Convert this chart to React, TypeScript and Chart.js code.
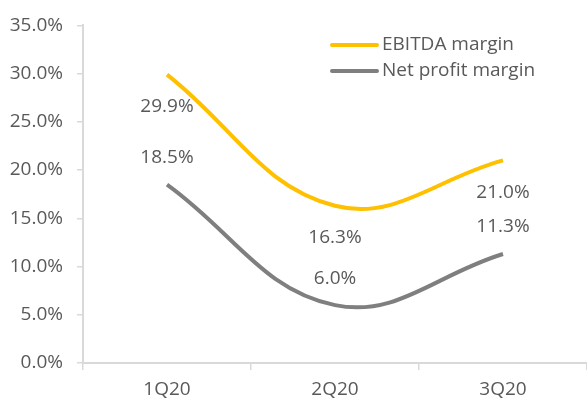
import React, { useEffect, useRef } from "react";
import { Chart, registerables } from "chart.js";

Chart.register(...registerables);

const categories = ["1Q20", "2Q20", "3Q20"];
const ebitdaMargin = [0.299, 0.163, 0.21];
const netProfitMargin = [0.185, 0.06, 0.113];
const seriesNames = ["EBITDA margin", "Net profit margin"];
const seriesColors = ["#FFC000", "#7F7F7F"];
const yMin = 0;
const yMax = 0.35;
const yStep = 0.05;

const FONT = "'Open Sans', 'Liberation Sans', sans-serif";
const TEXT_COLOR = "#595959";
const AXIS_COLOR = "#D9D9D9";
const FONT_SIZE = 19;

const pct = (v: number) => (v * 100).toFixed(1) + "%";

// label offsets from the point (px): positive = below
const labelOffsets = [32, -27];

const dataLabelPlugin = {
  id: "dataLabels",
  afterDatasetsDraw(chart: any) {
    const ctx = chart.ctx;
    ctx.save();
    ctx.font = `${FONT_SIZE}px ${FONT}`;
    ctx.fillStyle = TEXT_COLOR;
    ctx.textAlign = "center";
    ctx.textBaseline = "middle";
    chart.data.datasets.forEach((ds: any, i: number) => {
      const meta = chart.getDatasetMeta(i);
      meta.data.forEach((pt: any, j: number) => {
        ctx.fillText(pct(ds.data[j]), pt.x, pt.y + labelOffsets[i]);
      });
    });
    ctx.restore();
  },
};

const legendPlugin = {
  id: "customLegend",
  afterDraw(chart: any) {
    const ctx = chart.ctx;
    const x0 = 332;
    const lineLen = 45;
    const y0 = 45;
    const rowH = 26;
    ctx.save();
    ctx.font = `${FONT_SIZE}px ${FONT}`;
    ctx.textAlign = "left";
    ctx.textBaseline = "middle";
    chart.data.datasets.forEach((ds: any, i: number) => {
      const y = y0 + i * rowH;
      ctx.strokeStyle = ds.borderColor;
      ctx.lineWidth = 4;
      ctx.lineCap = "round";
      ctx.beginPath();
      ctx.moveTo(x0, y);
      ctx.lineTo(x0 + lineLen, y);
      ctx.stroke();
      ctx.fillStyle = TEXT_COLOR;
      ctx.fillText(ds.label, x0 + lineLen + 5, y);
    });
    ctx.restore();
  },
};

export default function App() {
  const ref = useRef<HTMLCanvasElement>(null);

  useEffect(() => {
    document.body.style.margin = "0";
    const canvas = ref.current;
    if (!canvas) return;
    const chart = new Chart(canvas, {
      type: "line",
      data: {
        labels: categories,
        datasets: [
          {
            label: seriesNames[0],
            data: ebitdaMargin,
            borderColor: seriesColors[0],
            backgroundColor: seriesColors[0],
            borderWidth: 4,
            pointRadius: 0,
            tension: 0.4,
            fill: false,
          },
          {
            label: seriesNames[1],
            data: netProfitMargin,
            borderColor: seriesColors[1],
            backgroundColor: seriesColors[1],
            borderWidth: 4,
            pointRadius: 0,
            tension: 0.4,
            fill: false,
          },
        ],
      },
      options: {
        responsive: false,
        animation: false,
        layout: { padding: { top: 22, right: 0, bottom: 0, left: 0 } },
        plugins: {
          legend: { display: false },
          tooltip: { enabled: false },
        },
        scales: {
          x: {
            offset: true,
            grid: {
              offset: true,
              drawOnChartArea: false,
              drawTicks: true,
              tickLength: 7,
              color: AXIS_COLOR,
              lineWidth: 1.5,
            },
            border: { display: true, color: AXIS_COLOR, width: 2 },
            ticks: {
              color: TEXT_COLOR,
              font: { family: FONT, size: FONT_SIZE },
              padding: 8,
              maxRotation: 0,
            },
            afterFit(scale: any) {
              scale.height = 38;
            },
          },
          y: {
            min: yMin,
            max: yMax,
            grid: {
              drawOnChartArea: false,
              drawTicks: true,
              tickLength: 6,
              color: AXIS_COLOR,
              lineWidth: 1.5,
            },
            border: { display: true, color: AXIS_COLOR, width: 2 },
            ticks: {
              stepSize: yStep,
              color: TEXT_COLOR,
              font: { family: FONT, size: FONT_SIZE },
              padding: 14,
              callback: (v: any) => pct(Number(v)),
            },
            afterFit(scale: any) {
              scale.width = 83;
            },
          },
        },
      },
      plugins: [dataLabelPlugin, legendPlugin],
    });
    return () => chart.destroy();
  }, []);

  return (
    <div style={{ position: "fixed", left: 0, top: 0, width: 587, height: 401, background: "#fff" }}>
      <canvas ref={ref} width={587} height={401} />
    </div>
  );
}
